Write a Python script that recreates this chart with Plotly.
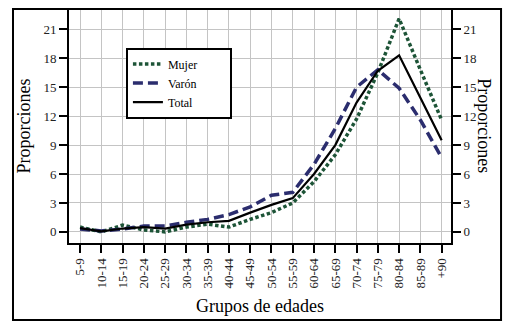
import plotly.graph_objects as go

groups = ["5-9", "10-14", "15-19", "20-24", "25-29", "30-34", "35-39", "40-44", "45-49",
          "50-54", "55-59", "60-64", "65-69", "70-74", "75-79", "80-84", "85-89", "+90"]
mujer = [0.5, 0.0, 0.7, 0.2, 0.0, 0.5, 0.8, 0.5, 1.3, 2.0, 3.0, 5.2, 8.0, 11.7, 16.5, 22.1, 16.8, 11.6]
varon = [0.3, 0.1, 0.3, 0.6, 0.6, 1.0, 1.3, 1.8, 2.6, 3.8, 4.1, 7.0, 10.7, 15.0, 16.8, 14.9, 11.6, 7.7]
total = [0.4, 0.05, 0.35, 0.5, 0.35, 0.75, 1.0, 1.15, 2.0, 2.8, 3.5, 6.0, 9.0, 13.4, 16.7, 18.3, 13.9, 9.5]
yticks = [0, 3, 6, 9, 12, 15, 18, 21]
series_names = ["Mujer", "Varón", "Total"]

FONT = "Liberation Serif"
x = list(range(len(groups)))
PAD = "\u00a0" * 9  # visual padding so the legend box is as wide as in the original

fig = go.Figure()
fig.add_trace(go.Scatter(x=x, y=mujer, name=series_names[0] + PAD, mode="lines",
                         line=dict(color="#1d5437", width=3.5, dash="3.5px,2.5px")))
fig.add_trace(go.Scatter(x=x, y=varon, name=series_names[1] + PAD, mode="lines",
                         line=dict(color="#2b2d6e", width=3.5, dash="10px,5px")))
fig.add_trace(go.Scatter(x=x, y=total, name=series_names[2] + PAD, mode="lines",
                         line=dict(color="black", width=2.2)))
# invisible trace to activate the right axis
fig.add_trace(go.Scatter(x=x, y=total, yaxis="y2", mode="lines", showlegend=False,
                         hoverinfo="skip", line=dict(width=0, color="rgba(0,0,0,0)")))

yr = [-1.15, 23.1]
axis_common = dict(range=yr, tickvals=yticks, ticks="outside", ticklen=8, tickwidth=1.5,
                   tickcolor="black", showline=True, linecolor="black", linewidth=2,
                   tickfont=dict(family=FONT, size=13, color="#222"), zeroline=False)

fig.update_layout(
    width=514, height=329,
    margin=dict(l=69, r=63, t=9, b=86),
    paper_bgcolor="white", plot_bgcolor="white",
    font=dict(family=FONT, color="black"),
    xaxis=dict(tickvals=x, ticktext=groups, range=[-0.52, 17.44], tickangle=-90,
               ticks="outside", ticklen=8, tickwidth=1.5, tickcolor="black",
               showline=True, linecolor="black", linewidth=2,
               showgrid=True, gridcolor="#c4c4c4", gridwidth=1, zeroline=False,
               tickfont=dict(family=FONT, size=13, color="#222"),
               title=dict(text="Grupos de edades", font=dict(family=FONT, size=18), standoff=12)),
    yaxis=dict(**axis_common, showgrid=True, gridcolor="#c4c4c4", gridwidth=1,
               title=dict(text="Proporciones", font=dict(family=FONT, size=18), standoff=8)),
    yaxis2=dict(**axis_common, overlaying="y", side="right", showgrid=False),
    legend=dict(x=0.149, y=0.835, xanchor="left", yanchor="top",
                bgcolor="white", bordercolor="black", borderwidth=2,
                font=dict(family=FONT, size=12), tracegroupgap=0, itemwidth=30),
    showlegend=True,
)

fig.add_annotation(text="Proporciones", xref="paper", yref="paper", x=1.086, y=0.5,
                   xanchor="center", yanchor="middle",
                   textangle=90, showarrow=False, font=dict(family=FONT, size=18))
fig.add_shape(type="rect", xref="paper", yref="paper", x0=-0.1466, x1=1.131, y0=-0.3286, y1=1.0,
              line=dict(color="black", width=2), fillcolor="rgba(0,0,0,0)", layer="above")

fig.write_html("out.html")
